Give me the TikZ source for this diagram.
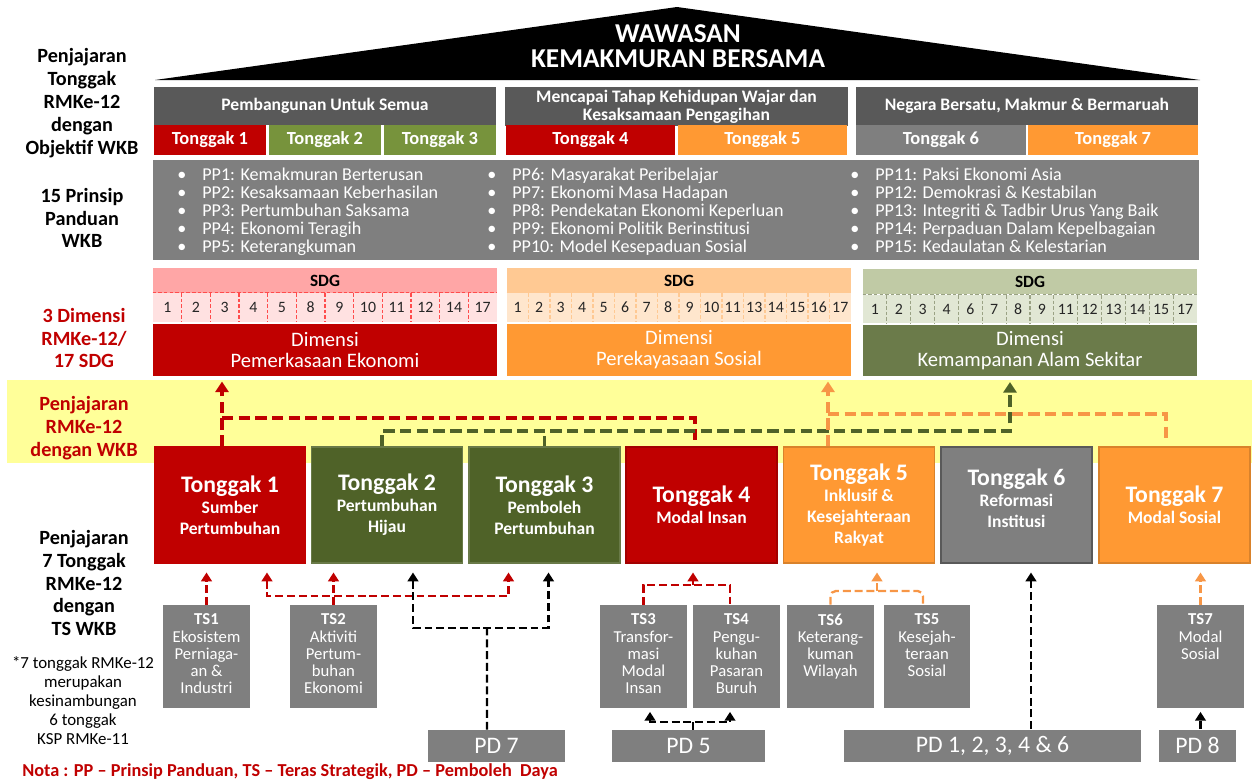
\documentclass[tikz,border=0pt]{standalone}
\usepackage{fontspec}
\setmainfont{Carlito}
\usepackage{tikz}
\usetikzlibrary{arrows.meta}
\usepackage{xcolor}

\definecolor{wkbred}{HTML}{C00000}
\definecolor{wkbdark}{HTML}{595959}
\definecolor{wkbgrey}{HTML}{7F7F7F}
\definecolor{wkbgreen}{HTML}{77933C}
\definecolor{wkbolive}{HTML}{4F6228}
\definecolor{wkbsage}{HTML}{6B7B4A}
\definecolor{wkborange}{HTML}{FF9933}
\definecolor{wkblink}{HTML}{F79646}
\definecolor{wkbyellow}{HTML}{FFFF99}
\definecolor{sdgpinkA}{HTML}{FFA6A6}
\definecolor{sdgpinkB}{HTML}{FFE1E1}
\definecolor{sdgorA}{HTML}{FFC993}
\definecolor{sdgorB}{HTML}{FFE6CD}
\definecolor{sdggrA}{HTML}{C0CAA5}
\definecolor{sdggrB}{HTML}{E1E7D4}

% tajuk tonggak
\newcommand\pillarfont{\fontsize{13.5}{15}\selectfont}
% teks TS diletakkan di bahagian atas kotak
\newcommand\tslines[1]{\parbox[c][1.7cm][t]{1.74cm}{\centering #1}}

\begin{document}
\begin{tikzpicture}[x=0.02cm, y=-0.02cm,
    box/.style={rectangle, inner sep=0pt, align=center, text=white},
    header/.style={box, fill=wkbdark, minimum width=6.86cm, minimum height=0.78cm,
      font=\fontsize{10}{10.3}\selectfont\bfseries},
    tab/.style={box, minimum width=2.26cm, minimum height=0.6cm,
      font=\fontsize{10.5}{11}\selectfont\bfseries},
    tabwide/.style={tab, minimum width=3.4cm},
    pplist/.style={inner sep=0pt, anchor=west, text=white,
      font=\fontsize{10.3}{10.2}\selectfont},
    sdghead/.style={box, text=black, minimum height=0.5cm,
      font=\fontsize{9.8}{11}\selectfont\bfseries},
    sdgrow/.style={box, minimum height=0.58cm},
    sdgnum/.style={inner sep=0pt, text=black!85, font=\fontsize{9}{10}\selectfont},
    sdgcut/.style={line width=0.6pt, dash pattern=on 2pt off 1.2pt},
    dimbox/.style={box, minimum height=1.04cm, font=\fontsize{11.7}{12}\selectfont},
    sidelabel/.style={align=center, inner sep=0pt,
      font=\fontsize{11.5}{13}\selectfont\bfseries},
    pillar/.style={box, minimum width=3.02cm, minimum height=2.32cm, line width=0.8pt,
      font=\fontsize{10}{12}\selectfont\bfseries},
    tsbox/.style={rectangle, inner sep=0pt, text=white, fill=wkbgrey,
      minimum width=1.74cm, minimum height=2.06cm, font=\fontsize{9.5}{9.7}\selectfont},
    pdbox/.style={box, fill=wkbgrey, minimum height=0.64cm,
      font=\fontsize{13.5}{14}\selectfont},
    bandline/.style={line width=2.2pt, dash pattern=on 6.5pt off 3pt,
      >={Triangle[length=6pt,width=7.5pt]}, shorten >=3pt},
    linkline/.style={line width=1.3pt, dash pattern=on 4.5pt off 2.2pt,
      >={Triangle[length=5pt,width=6pt]}},
    topillar/.style={->, shorten >=5pt},
    tots/.style={->, shorten >=2pt},
  ]
  \useasboundingbox (0,0) rectangle (1252,781);

  % bumbung
  \fill (155,80) -- (677,7) -- (1200,80) -- cycle;
  \node (wkb) [box, font=\fontsize{15.5}{14.2}\selectfont\bfseries] at (678,46)
    {WAWASAN\\KEMAKMURAN BERSAMA};

  % objektif WKB
  \node (obj1) [header] at (325,106) {Pembangunan Untuk Semua};
  \node (obj2) [header] at (676.5,106.5) {Mencapai Tahap Kehidupan Wajar dan\\Kesaksamaan Pengagihan};
  \node (obj3) [header] at (1027,106) {Negara Bersatu, Makmur \& Bermaruah};

  \node (tab1) [tab, fill=wkbred] at (210,140) {Tonggak 1};
  \node (tab2) [tab, fill=wkbgreen] at (325,140) {Tonggak 2};
  \node (tab3) [tab, fill=wkbgreen] at (440,140) {Tonggak 3};
  \node (tab4) [tabwide, fill=wkbred] at (590.5,140) {Tonggak 4};
  \node (tab5) [tabwide, fill=wkborange] at (762.5,140) {Tonggak 5};
  \node (tab6) [tabwide, fill=wkbgrey] at (941,140) {Tonggak 6};
  \node (tab7) [tabwide, fill=wkborange] at (1113,140) {Tonggak 7};

  % prinsip panduan
  \node (pp) [box, fill=wkbgrey, minimum width=20.92cm, minimum height=2cm] at (676,210) {};
  \node (ppA) [pplist] at (177,213) {
    \begin{tabular}{@{}p{0.5cm}@{}l@{}}
      \textbullet & PP1: Kemakmuran Berterusan \\
      \textbullet & PP2: Kesaksamaan Keberhasilan \\
      \textbullet & PP3: Pertumbuhan Saksama \\
      \textbullet & PP4: Ekonomi Teragih \\
      \textbullet & PP5: Keterangkuman
    \end{tabular}
  };
  \node (ppB) [pplist] at (487,213) {
    \begin{tabular}{@{}p{0.5cm}@{}l@{}}
      \textbullet & PP6: Masyarakat Peribelajar \\
      \textbullet & PP7: Ekonomi Masa Hadapan \\
      \textbullet & PP8: Pendekatan Ekonomi Keperluan \\
      \textbullet & PP9: Ekonomi Politik Berinstitusi \\
      \textbullet & PP10: Model Kesepaduan Sosial
    \end{tabular}
  };
  \node (ppC) [pplist] at (850,213) {
    \begin{tabular}{@{}p{0.5cm}@{}l@{}}
      \textbullet & PP11: Paksi Ekonomi Asia \\
      \textbullet & PP12: Demokrasi \& Kestabilan \\
      \textbullet & PP13: Integriti \& Tadbir Urus Yang Baik \\
      \textbullet & PP14: Perpaduan Dalam Kepelbagaian \\
      \textbullet & PP15: Kedaulatan \& Kelestarian
    \end{tabular}
  };

  % SDG dan dimensi
  \node (sdgE) [sdghead, fill=sdgpinkA, minimum width=6.88cm] at (325,280.5) {SDG};
  \node (rowE) [sdgrow, fill=sdgpinkB, minimum width=6.88cm] at (325,307.5) {};
  \foreach \n [count=\i] in {1,2,3,4,5,8,9,10,11,12,14,17}
    \node (nE\i) [sdgnum] at ({153+(\i-0.5)*344/12},307.5) {\n};
  \draw[sdgcut, red!70] (rowE.north west) -- (rowE.north east);
  \foreach \i in {1,...,11}
    \draw[sdgcut, red!70] ({153+\i*344/12},293) -- ++(0,29);
  \node (dimE) [dimbox, fill=wkbred, minimum width=6.88cm] at (325,350) {Dimensi\\Pemerkasaan Ekonomi};

  \node (sdgS) [sdghead, fill=sdgorA, minimum width=6.88cm] at (679,280.5) {SDG};
  \node (rowS) [sdgrow, fill=sdgorB, minimum width=6.88cm] at (679,307.5) {};
  \foreach \n [count=\i] in {1,2,3,4,5,6,7,8,9,10,11,13,14,15,16,17}
    \node (nS\i) [sdgnum] at ({507+(\i-0.5)*344/16},307.5) {\n};
  \draw[sdgcut, sdgorA] (rowS.north west) -- (rowS.north east);
  \foreach \i in {1,...,15}
    \draw[sdgcut, sdgorA] ({507+\i*344/16},293) -- ++(0,29);
  \node (dimS) [dimbox, fill=wkborange, minimum width=6.88cm] at (679,350) {Dimensi\\Perekayasaan Sosial};

  \node (sdgK) [sdghead, fill=sdggrA, minimum width=6.68cm] at (1030,281.5) {SDG};
  \node (rowK) [sdgrow, fill=sdggrB, minimum width=6.68cm] at (1030,309) {};
  \foreach \n [count=\i] in {1,2,3,4,6,7,8,9,11,12,13,14,15,17}
    \node (nK\i) [sdgnum] at ({863+(\i-0.5)*334/14},309) {\n};
  \draw[sdgcut, sdggrA!80!black] (rowK.north west) -- (rowK.north east);
  \foreach \i in {1,...,13}
    \draw[sdgcut, sdggrA!80!black] ({863+\i*334/14},295) -- ++(0,29);
  \node (dimK) [dimbox, fill=wkbsage, minimum width=6.68cm] at (1030,350.5) {Dimensi\\Kemampanan Alam Sekitar};

  % jalur penjajaran
  \fill[wkbyellow] (7,380) rectangle (1252,463);

  % label kiri
  \node (lobj) [sidelabel] at (82,103) {Penjajaran\\Tonggak\\RMKe-12\\dengan\\Objektif WKB};
  \node (lpp) [sidelabel] at (82,218) {15 Prinsip\\Panduan\\WKB};
  \node (ldim) [sidelabel, text=wkbred] at (84,338) {3 Dimensi\\RMKe-12/\\17 SDG};
  \node (lband) [sidelabel, text=wkbred] at (84,428) {Penjajaran\\RMKe-12\\dengan WKB};
  \node (lts) [sidelabel] at (84,583) {Penjajaran\\7 Tonggak\\RMKe-12\\dengan\\TS WKB};
  \node (lnote) [align=center, inner sep=0pt, font=\fontsize{9.6}{10.8}\selectfont] at (83,701)
    {*7 tonggak RMKe-12\\merupakan\\kesinambungan\\6 tonggak\\KSP RMKe-11};
  \node (nota) [inner sep=0pt, text=wkbred, font=\fontsize{10.4}{11}\selectfont\bfseries] at (290,772)
    {Nota : PP -- Prinsip Panduan, TS -- Teras Strategik, PD -- Pemboleh\ \ Daya};

  % 7 tonggak
  \node (p1) [pillar, fill=wkbred, draw=wkbred] at (230,505)
    {{\pillarfont Tonggak 1}\\Sumber\\Pertumbuhan};
  \node (p2) [pillar, fill=wkbolive, draw=wkbolive!85!white] at (387,505)
    {{\pillarfont Tonggak 2}\\Pertumbuhan\\Hijau};
  \node (p3) [pillar, fill=wkbolive, draw=wkbolive!85!white] at (544.5,505)
    {{\pillarfont Tonggak 3}\\Pemboleh\\Pertumbuhan};
  \node (p4) [pillar, fill=wkbred, draw=wkbred!85!black] at (701.5,505)
    {{\pillarfont Tonggak 4}\\Modal Insan};
  \node (p5) [pillar, fill=wkborange, draw=wkborange!85!black] at (859,505)
    {{\pillarfont Tonggak 5}\\Inklusif \&\\Kesejahteraan\\Rakyat};
  \node (p6) [pillar, fill=wkbgrey, draw=wkbdark] at (1016.5,505)
    {{\pillarfont Tonggak 6}\\Reformasi\\Institusi\\[-4pt]\mbox{}};
  \node (p7) [pillar, fill=wkborange, draw=wkborange!85!black] at (1174.5,505)
    {{\pillarfont Tonggak 7}\\Modal Sosial};

  % teras strategik
  \node (ts1) [tsbox] at (206.5,656.5) {\tslines{\textbf{TS1}\\Ekosistem\\Perniaga-\\an \&\\Industri}};
  \node (ts2) [tsbox] at (333.5,656.5) {\tslines{\textbf{TS2}\\Aktiviti\\Pertum-\\buhan\\Ekonomi}};
  \node (ts3) [tsbox] at (643.5,656.5) {\tslines{\textbf{TS3}\\Transfor-\\masi\\Modal\\Insan}};
  \node (ts4) [tsbox] at (736.5,656.5) {\tslines{\textbf{TS4}\\Pengu-\\kuhan\\Pasaran\\Buruh}};
  \node (ts6) [tsbox] at (830.5,656.5) {\tslines{\textbf{TS6}\\Keterang-\\kuman\\Wilayah}};
  \node (ts5) [tsbox] at (927,656.5) {\tslines{\textbf{TS5}\\Kesejah-\\teraan\\Sosial}};
  \node (ts7) [tsbox] at (1200.5,656.5) {\tslines{\textbf{TS7}\\Modal\\Sosial}};

  % pemboleh daya
  \node (pd7) [pdbox, minimum width=2.74cm] at (496.5,746) {PD 7};
  \node (pd5) [pdbox, minimum width=3.06cm] at (688.5,746) {PD 5};
  \node (pd1) [pdbox, minimum width=5.94cm] at (992.5,745.5) {PD 1, 2, 3, 4 \& 6};
  \node (pd8) [pdbox, minimum width=1.54cm] at (1197.5,745.5) {PD 8};

  % penjajaran tonggak ke dimensi
  \coordinate (rjoin) at (222,418);
  \coordinate (gjoin) at (1010,431);
  \coordinate (ojoin) at (828,414);
  \draw[bandline, wkbred, ->] (rjoin |- p1.north) -- (rjoin |- dimE.south);
  \draw[bandline, wkbred] (rjoin) -| ([xshift=-0.13cm]p4.north);
  \draw[bandline, wkbolive, ->] ([xshift=-0.1cm]p2.north) |- (gjoin) -- (gjoin |- dimK.south);
  \draw[bandline, wkbolive] (p3.north) -- (p3.north |- gjoin);
  \draw[bandline, wkblink, ->] (ojoin |- p5.north) -- (ojoin |- dimS.south);
  \draw[bandline, wkblink] (ojoin) -| ([xshift=-0.17cm]p7.north);

  % penjajaran TS ke tonggak
  \coordinate (rtwo) at (335,596);
  \coordinate (kseven) at (487,628);
  \coordinate (rfour) at (693,585);
  \coordinate (kfive) at (693,722);
  \coordinate (ofive) at (877,591);
  \coordinate (ksix) at ([xshift=0.77cm]pd1.north);
  \draw[linkline, wkbred, topillar] (ts1.north) -- (ts1.north |- p1.south);
  \draw[linkline, wkbred, topillar] (ts2.north) -- (ts2.north |- p2.south);
  \draw[linkline, wkbred, <->, shorten <=5pt, shorten >=5pt]
    ([xshift=0.74cm]p1.south) |- (rtwo) -| ([xshift=-0.72cm]p3.south);
  \draw[linkline, black] ([xshift=-0.19cm]pd7.north) -- (kseven);
  \draw[linkline, black, <->, shorten <=5pt, shorten >=5pt]
    ([xshift=0.52cm]p2.south) |- (kseven) -| ([xshift=0.08cm]p3.south);
  \draw[linkline, wkbred] (ts3.north) |- (rfour) -| ([xshift=-0.13cm]ts4.north);
  \draw[linkline, wkbred, topillar] (rfour) -- (rfour |- p4.south);
  \draw[linkline, black] (kfive |- pd5.north) -- (kfive);
  \draw[linkline, black, <->, shorten <=2pt, shorten >=2pt]
    ([xshift=0.13cm]ts3.south) |- (kfive) -| ([xshift=-0.13cm]ts4.south);
  \draw[linkline, wkblink, rounded corners=3pt] (ts6.north) |- (ofive) -| ([xshift=-0.08cm]ts5.north);
  \draw[linkline, wkblink, topillar] (ofive) -- (ofive |- p5.south);
  \draw[linkline, black, topillar] (ksix) -- (ksix |- p6.south);
  \draw[linkline, wkblink, topillar] (ts7.north) -- (ts7.north |- p7.south);
  \draw[linkline, black, tots] (pd8.north -| ts7.south) -- (ts7.south);
\end{tikzpicture}
\end{document}
